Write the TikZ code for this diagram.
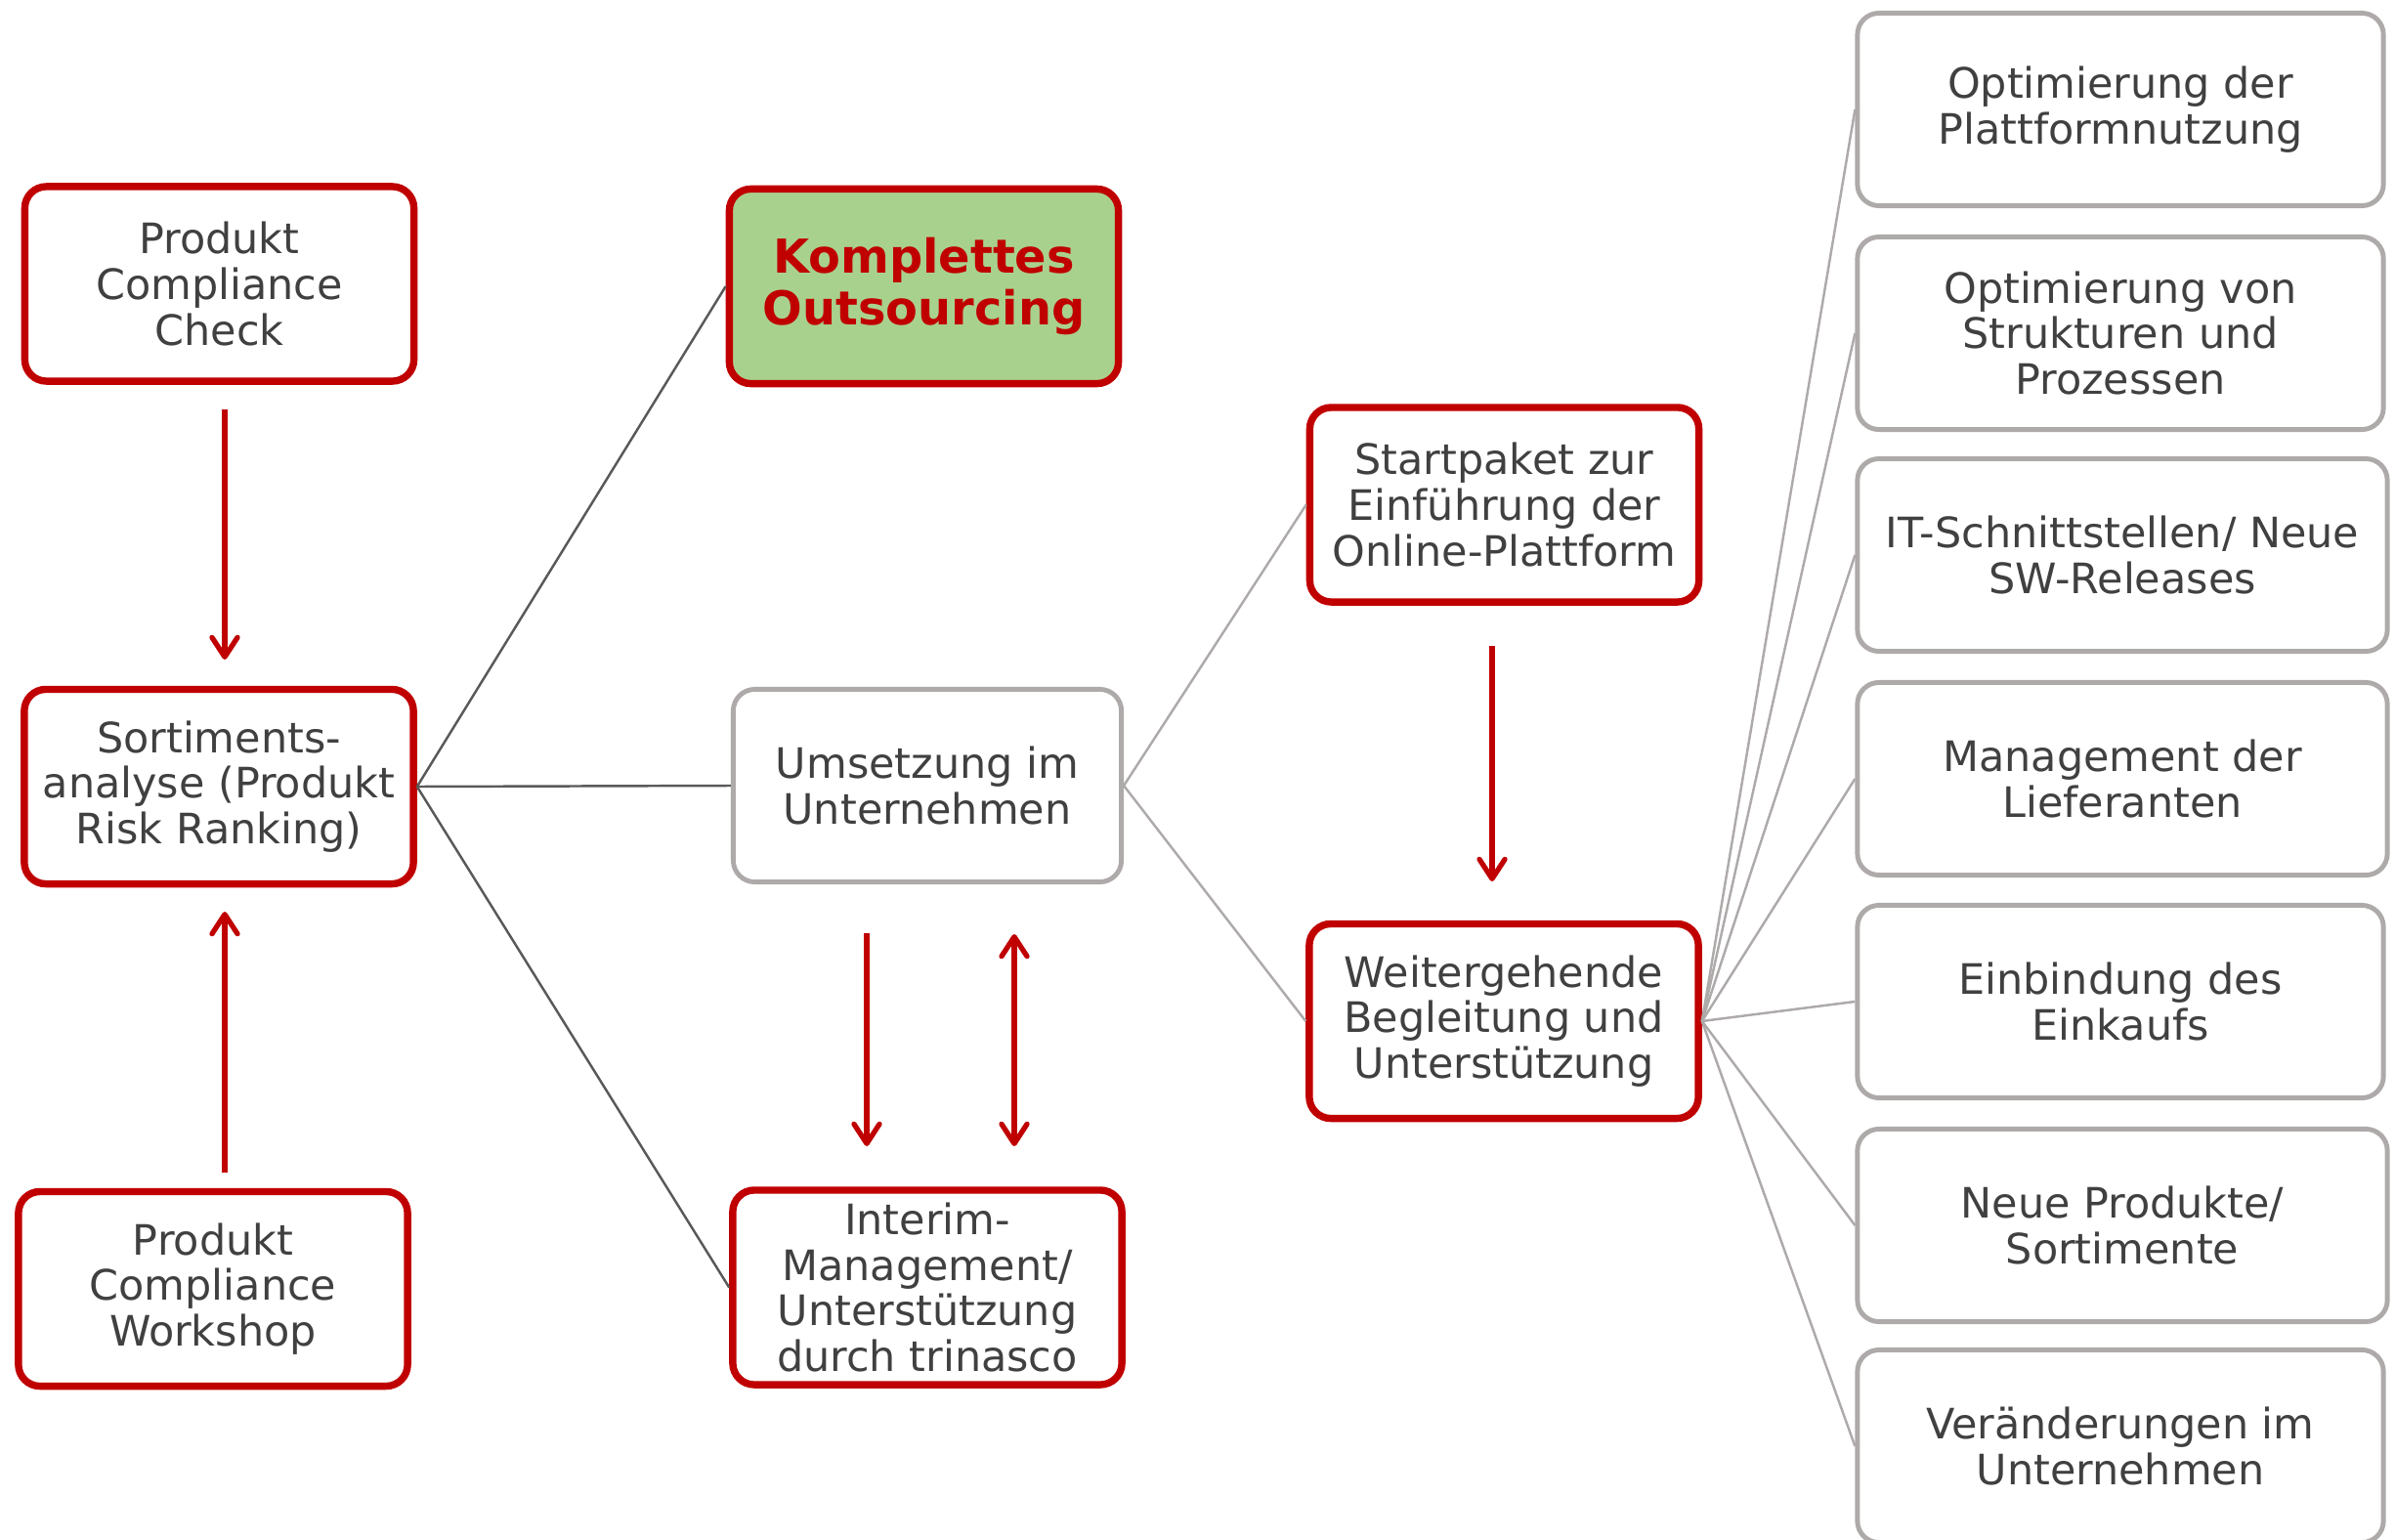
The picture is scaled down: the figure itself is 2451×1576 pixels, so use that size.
\documentclass[tikz,border=0pt]{standalone}
\usepackage{fontspec}
\setmainfont{DejaVu Sans}
\usetikzlibrary{arrows.meta}
\definecolor{cred}{HTML}{C00000}
\definecolor{cgreen}{HTML}{A9D18E}
\definecolor{cgray}{HTML}{AEAAAA}
\definecolor{ctext}{HTML}{404040}
\definecolor{cdark}{HTML}{595959}
\begin{document}
\begin{tikzpicture}[x=0.01cm,y=-0.01cm,
 box/.style={draw, rounded corners=0.22cm, align=center, text=ctext, font=\fontsize{12.2pt}{13.3pt}\selectfont, inner sep=0pt, fill=white},
 redbox/.style={box, draw=cred, line width=2.1pt, minimum width=3.98cm, minimum height=1.99cm},
 graybox/.style={box, draw=cgray, line width=1.4pt},
 rightbox/.style={graybox, minimum width=5.38cm, minimum height=1.97cm},
 darkline/.style={draw=cdark, line width=0.7pt},
 lightline/.style={draw=cgray, line width=0.7pt},
 redarrow/.style={draw=cred, line width=1.5pt, -{Straight Barb[length=0.2cm,width=0.26cm,round]}},
 redarrowboth/.style={draw=cred, line width=1.5pt, {Straight Barb[length=0.2cm,width=0.26cm,round]}-{Straight Barb[length=0.2cm,width=0.26cm,round]}},
]
\useasboundingbox (0,0) rectangle (2451,1576);

% left column
\node[redbox] (pcc) at (224.5,290.5) {Produkt\\Compliance\\Check};
\node[redbox] (sort) at (224,805) {Sortiments-\\analyse (Produkt\\Risk Ranking)};
\node[redbox] (pcw) at (218,1319) {Produkt\\Compliance\\Workshop};

% middle column
\node[redbox, fill=cgreen, text=cred, font=\bfseries\fontsize{13.6pt}{14.8pt}\selectfont] (ko) at (945.5,293) {Komplettes\\Outsourcing};
\node[graybox, minimum width=3.97cm, minimum height=1.97cm] (um) at (949,804) {Umsetzung im\\Unternehmen};
\node[redbox] (int) at (949,1317.5) {Interim-\\Management/\\Unterstützung\\durch trinasco};

% third column
\node[redbox] (start) at (1539.5,516.5) {Startpaket zur\\Einführung der\\Online-Plattform};
\node[redbox] (weiter) at (1539,1045) {Weitergehende\\Begleitung und\\Unterstützung};

% right column
\node[rightbox] (r1) at (2170,112) {Optimierung der\\Plattformnutzung};
\node[rightbox] (r2) at (2170,341) {Optimierung von\\Strukturen und\\Prozessen};
\node[rightbox, minimum width=5.42cm] (r3) at (2172,568) {IT-Schnittstellen/ Neue\\SW-Releases};
\node[rightbox, minimum width=5.42cm] (r4) at (2172,797) {Management der\\Lieferanten};
\node[rightbox] (r5) at (2170,1025) {Einbindung des\\Einkaufs};
\node[rightbox, minimum width=5.42cm] (r6) at (2172,1254) {Neue Produkte/\\Sortimente};
\node[rightbox] (r7) at (2170,1480) {Veränderungen im\\Unternehmen};

% connectors
\draw[darkline] (sort.east) -- (ko.west);
\draw[darkline] (sort.east) -- (um.west);
\draw[darkline] (sort.east) -- (int.west);
\draw[lightline] (um.east) -- (start.west);
\draw[lightline] (um.east) -- (weiter.west);
\foreach \r in {r1,r2,r3,r4,r5,r6,r7}
  \draw[lightline] (weiter.east) -- (\r.west);

% red arrows
\coordinate (a1s) at (230,419);
\coordinate (a1e) at (230,675);
\coordinate (a2s) at (230,1200);
\coordinate (a2e) at (230,933);
\coordinate (a3s) at (887,955);
\coordinate (a3e) at (887,1173);
\coordinate (a4s) at (1038,956);
\coordinate (a4e) at (1038,1173);
\coordinate (a5s) at (1527,661);
\coordinate (a5e) at (1527,902);
\draw[redarrow] (a1s) -- (a1e);
\draw[redarrow] (a2s) -- (a2e);
\draw[redarrow] (a3s) -- (a3e);
\draw[redarrowboth] (a4s) -- (a4e);
\draw[redarrow] (a5s) -- (a5e);
\end{tikzpicture}
\end{document}
